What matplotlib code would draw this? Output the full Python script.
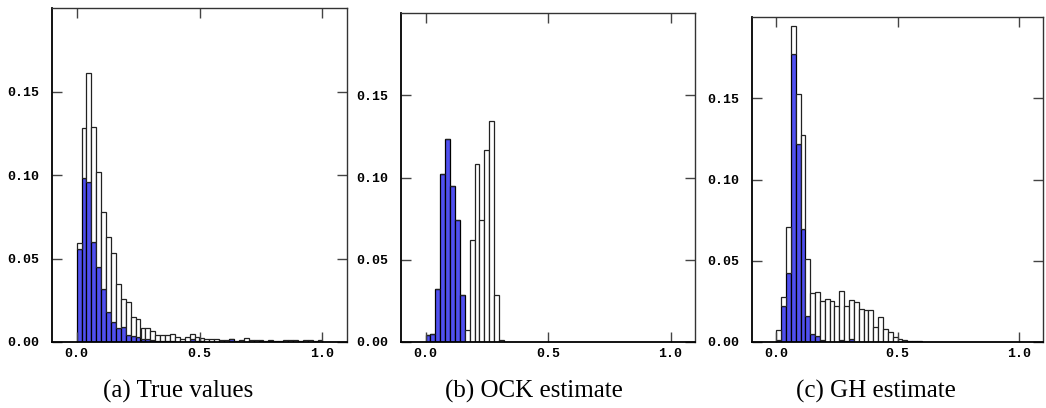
import matplotlib
matplotlib.use("Agg")
import matplotlib.pyplot as plt
import numpy as np

# bin edges, width 0.02 from 0 to 1
bin_left = np.arange(50) * 0.02

# (a) true values: stacked totals (white top) and blue part
true_total = [0.0594, 0.128, 0.161, 0.129, 0.102, 0.078, 0.063, 0.053, 0.035, 0.026,
              0.024, 0.015, 0.0136, 0.0084, 0.0084, 0.0064, 0.004, 0.004, 0.004, 0.0046,
              0.003, 0.0016, 0.003, 0.0046, 0.003, 0.0026, 0.0016, 0.002, 0.0016, 0.001,
              0.0012, 0.0018, 0.0008, 0.001, 0.0022, 0.001, 0.001, 0.001, 0.0008, 0.001,
              0.0006, 0.0006, 0.001, 0.001, 0.001, 0.0006, 0.001, 0.001, 0.0004, 0.001]
true_blue = [0.0554, 0.098, 0.096, 0.060, 0.045, 0.032, 0.018, 0.012, 0.0084, 0.009,
             0.0044, 0.0036, 0.003, 0.0016, 0.002, 0.001, 0.0006, 0.0006, 0.0004, 0.0006,
             0.0002, 0.0, 0.0002, 0.0016, 0.0008, 0.0008, 0.0, 0.0, 0.0, 0.0,
             0.0, 0.0016, 0.0, 0.0, 0.0, 0.0, 0.0, 0.0008, 0.0, 0.0008,
             0.0, 0.0, 0.0, 0.0, 0.0, 0.0, 0.0, 0.0, 0.0, 0.0]

# (b) OCK estimate
ock_total = [0.0045, 0.005, 0.032, 0.102, 0.1235, 0.0947, 0.0744, 0.0288,
             0.0071, 0.0623, 0.108, 0.0744, 0.117, 0.1345, 0.0288, 0.0014]
ock_blue = [0.0045, 0.005, 0.032, 0.102, 0.1235, 0.0947, 0.0744, 0.0288,
            0, 0, 0, 0, 0, 0, 0, 0]

# (c) GH estimate
gh_total = [0.0072, 0.0275, 0.0706, 0.1945, 0.1528, 0.1273, 0.0511, 0.030, 0.0308, 0.0255,
            0.0267, 0.0255, 0.0224, 0.0312, 0.0224, 0.026, 0.0246, 0.0203, 0.0195, 0.0195,
            0.0092, 0.0154, 0.008, 0.006, 0.0029, 0.002, 0.0014, 0.0006, 0.0006, 0.0006]
gh_blue = [0.0014, 0.0224, 0.0425, 0.177, 0.122, 0.0698, 0.0162, 0.0051, 0.0039, 0.0012,
           0, 0, 0, 0.0012, 0.0006, 0.0018, 0, 0, 0, 0,
           0, 0, 0, 0, 0, 0, 0, 0, 0, 0]

captions = ["(a) True values", "(b) OCK estimate", "(c) GH estimate"]
BLUE = "#5050f0"

fig = plt.figure(figsize=(10.46, 4.08), dpi=100)
rects = [[52/1046, 66/408, 295/1046, 334/408],
         [401/1046, 66/408, 294/1046, 329/408],
         [752/1046, 66/408, 291/1046, 325/408]]
panels = [(true_total, true_blue), (ock_total, ock_blue), (gh_total, gh_blue)]
cap_x = [178/1046, 534/1046, 876/1046]

mono = "Liberation Mono"

for rect, (tot, blue), cx, cap in zip(rects, panels, cap_x, captions):
    ax = fig.add_axes(rect)
    n = len(tot)
    x = bin_left[:n]
    tot = np.array(tot)
    blue = np.array(blue)
    ax.bar(x, blue, width=0.02, align="edge", color=BLUE, edgecolor="black", linewidth=0.9)
    ax.bar(x, tot - blue, bottom=blue, width=0.02, align="edge", color="white",
           edgecolor="#222222", linewidth=0.9)
    ax.set_xlim(-0.1, 1.1)
    ax.set_ylim(0, 0.2)
    ax.set_xticks([0.0, 0.5, 1.0])
    ax.set_xticklabels(["0.0", "0.5", "1.0"])
    ax.set_yticks([0.0, 0.05, 0.10, 0.15])
    ax.set_yticklabels(["0.00", "0.05", "0.10", "0.15"])
    ax.tick_params(direction="in", length=7, width=1, top=True, right=True,
                   color="#444444")
    ax.tick_params(axis="y", pad=9)
    ax.tick_params(axis="x", pad=4)
    for lab in ax.get_xticklabels() + ax.get_yticklabels():
        lab.set_fontfamily(mono)
        lab.set_fontsize(9.5)
        lab.set_fontweight("bold")
    for side in ["left", "bottom"]:
        ax.spines[side].set_linewidth(1.3)
        ax.spines[side].set_color("black")
    for side in ["top", "right"]:
        ax.spines[side].set_linewidth(1.0)
        ax.spines[side].set_color("#333333")
    fig.text(cx, 10/408, cap, ha="center", va="baseline",
             family="Liberation Serif", fontsize=18)

fig.savefig("out.png", dpi=100)
